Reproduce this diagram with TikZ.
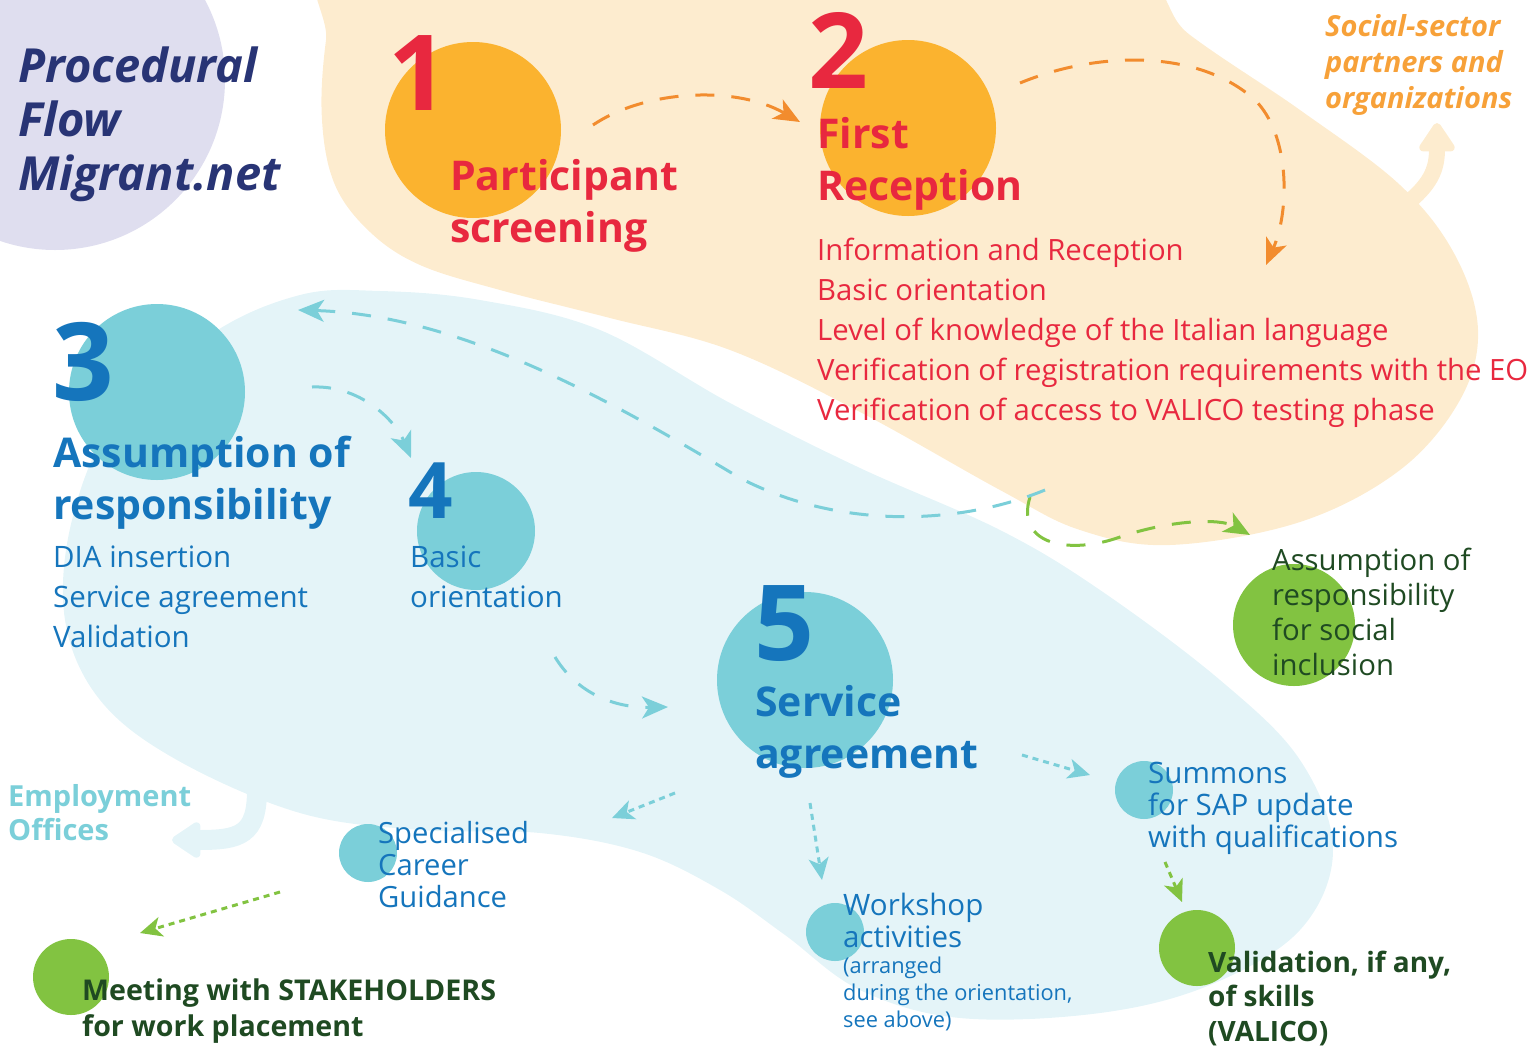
\documentclass[tikz,border=0pt]{standalone}
\usepackage{fontspec}
\setmainfont{Open Sans}
\usetikzlibrary{arrows.meta}
\definecolor{lav}{HTML}{DFDEEF}
\definecolor{peach}{HTML}{FDECCF}
\definecolor{skyb}{HTML}{E4F4F8}
\definecolor{orng}{HTML}{FBB32F}
\definecolor{teal}{HTML}{7BCFD9}
\definecolor{grn}{HTML}{82C341}
\definecolor{redt}{HTML}{E8283F}
\definecolor{bluet}{HTML}{1575BC}
\definecolor{greent}{HTML}{1F4A22}
\definecolor{navy}{HTML}{283475}
\definecolor{arrorange}{HTML}{F28C2E}
\definecolor{socorange}{HTML}{F7A139}
\tikzset{
  circ/.style={circle, inner sep=0pt, minimum size=#1},
  txt/.style={anchor=base west, inner sep=0pt, align=left},
  bigdash/.style={line width=3pt, dash pattern=on 19pt off 17pt, -{Stealth[length=26pt,width=22pt,inset=7pt]}},
  smalldot/.style={line width=3pt, dash pattern=on 6pt off 5pt, -{Stealth[length=22pt,width=20pt,inset=6pt]}},
  fatarrow/.style={line width=#1, line cap=round, -{Triangle[length=32pt,width=40pt,round]}},
}
\begin{document}
\begin{tikzpicture}[x=1pt,y=-1pt]
\useasboundingbox (0,0) rectangle (1535,1045);
\clip (0,0) rectangle (1535,1045);
% background blobs
\fill[lav] (55,80) circle[radius=170pt];
\fill[peach] plot[smooth cycle, tension=0.6] coordinates {(345,-60) (326,40) (322,120) (335,185) (370,232) (420,265) (500,290) (610,318) (730,350) (860,412) (1000,490) (1080,530) (1170,545) (1300,522) (1400,470) (1460,400) (1478,330) (1455,255) (1400,185) (1300,110) (1190,35) (1100,-40) (700,-70)};
\fill[skyb] plot[smooth cycle, tension=0.6] coordinates {(300,295) (380,291) (480,300) (600,330) (730,403) (860,468) (1000,530) (1100,590) (1220,680) (1300,760) (1333,850) (1300,930) (1210,985) (1100,1013) (960,1018) (860,990) (785,935) (720,890) (640,852) (540,833) (420,830) (300,813) (177,760) (100,700) (65,620) (72,520) (115,420) (210,335)};
% fat arrows
\coordinate (empS) at (257,790);
\coordinate (empE) at (172,840);
\draw[skyb, fatarrow=20pt] (empS) .. controls (257,835) and (240,840) .. (empE);
\coordinate (socS) at (1405,205);
\coordinate (socE) at (1437,123);
\draw[peach, fatarrow=16pt] (socS) .. controls (1430,185) and (1437,170) .. (socE);
% circles
\node[circ=176pt, fill=orng] (c1) at (473,130) {};
\node[circ=176pt, fill=orng] (c2) at (908,128) {};
\node[circ=176pt, fill=teal] (c3) at (157,392) {};
\node[circ=118pt, fill=teal] (c4) at (476,531) {};
\node[circ=176pt, fill=teal] (c5) at (805,680) {};
\node[circ=58pt, fill=teal] (cspec) at (368,853) {};
\node[circ=58pt, fill=teal] (cwork) at (835,932) {};
\node[circ=58pt, fill=teal] (csumm) at (1144,790) {};
\node[circ=122pt, fill=grn] (cinc) at (1294,625) {};
\node[circ=76pt, fill=grn] (cval) at (1197,948) {};
\node[circ=76pt, fill=grn] (cmeet) at (71,977) {};
% dashed connectors
\coordinate (a1s) at (593,125); \coordinate (a1e) at (800,122);
\draw[arrorange, bigdash] (a1s) .. controls (645,90) and (735,85) .. (a1e);
\coordinate (a2s) at (1020,83); \coordinate (a2m) at (1255,100); \coordinate (a2e) at (1266,265);
\draw[arrorange, bigdash] (a2s) .. controls (1100,50) and (1200,50) .. (a2m) .. controls (1290,135) and (1290,210) .. (a2e);
\coordinate (gs) at (1030,497); \coordinate (gm) at (1120,537); \coordinate (ge) at (1250,535);
\draw[grn, bigdash] (gs) .. controls (1015,545) and (1070,555) .. (gm) .. controls (1170,520) and (1220,518) .. (ge);
\coordinate (ts) at (1045,490); \coordinate (tm) at (740,478); \coordinate (te) at (298,310);
\draw[teal, bigdash] (ts) .. controls (960,525) and (840,530) .. (tm) .. controls (610,400) and (460,315) .. (te);
\coordinate (b34s) at (312,387); \coordinate (b34e) at (411,458);
\draw[teal, bigdash] (b34s) .. controls (360,385) and (395,420) .. (b34e);
\coordinate (b45s) at (555,657); \coordinate (b45e) at (668,707);
\draw[teal, bigdash] (b45s) .. controls (575,690) and (610,708) .. (b45e);
% dotted connectors
\coordinate (d1s) at (675,793); \coordinate (d1e) at (612,818);
\draw[teal, smalldot] (d1s) -- (d1e);
\coordinate (d2s) at (810,803); \coordinate (d2e) at (822,880);
\draw[teal, smalldot] (d2s) -- (d2e);
\coordinate (d3s) at (1022,755); \coordinate (d3e) at (1090,775);
\draw[teal, smalldot] (d3s) -- (d3e);
\coordinate (d4s) at (1165,862); \coordinate (d4e) at (1182,902);
\draw[grn, smalldot] (d4s) -- (d4e);
\coordinate (d5s) at (280,892); \coordinate (d5e) at (140,933);
\draw[grn, smalldot] (d5s) -- (d5e);
% texts (anchor = baseline of the last line)
\node[txt, text=navy, font=\fontsize{47}{54}\selectfont\bfseries\itshape] (title) at (18,190) {Procedural\\Flow\\Migrant.net};
\node[txt, text=socorange, font=\fontsize{29}{36}\selectfont\bfseries\itshape] (soc) at (1325,108) {Social-sector\\partners and\\organizations};
\node[txt, text=teal, font=\fontsize{29}{34}\selectfont\bfseries] (emp) at (8,840) {Employment\\Offices};
\node[txt, text=redt, font=\fontsize{105}{105}\selectfont\bfseries] (n1) at (388,110) {1};
\node[txt, text=redt, font=\fontsize{105}{105}\selectfont\bfseries] (n2) at (808,88) {2};
\node[txt, text=redt, font=\fontsize{41}{52}\selectfont\bfseries] (t1) at (450,242) {Participant\\screening};
\node[txt, text=redt, font=\fontsize{41}{52}\selectfont\bfseries] (t2) at (817,200) {First\\Reception};
\node[txt, text=redt, font=\fontsize{29.3}{40}\selectfont] (l2) at (817,420) {Information and Reception\\Basic orientation\\Level of knowledge of the Italian language\\Verification of registration requirements with the EO\\Verification of access to VALICO testing phase};
\node[txt, text=bluet, font=\fontsize{108}{108}\selectfont\bfseries] (n3) at (52,400) {3};
\node[txt, text=bluet, font=\fontsize{41}{52}\selectfont\bfseries] (t3) at (53,519) {Assumption of\\responsibility};
\node[txt, text=bluet, font=\fontsize{29.5}{40}\selectfont] (l3) at (53,647) {DIA insertion\\Service agreement\\Validation};
\node[txt, text=bluet, font=\fontsize{78}{78}\selectfont\bfseries] (n4) at (408,518) {4};
\node[txt, text=bluet, font=\fontsize{29.5}{40}\selectfont] (t4) at (410,607) {Basic\\orientation};
\node[txt, text=bluet, font=\fontsize{105}{105}\selectfont\bfseries] (n5) at (754,660) {5};
\node[txt, text=bluet, font=\fontsize{41}{52}\selectfont\bfseries] (t5) at (755,768) {Service\\agreement};
\node[txt, text=bluet, font=\fontsize{29.2}{32}\selectfont] (tspec) at (378,907) {Specialised\\Career\\Guidance};
\node[txt, text=bluet, font=\fontsize{29.5}{32}\selectfont] (twork) at (843,947) {Workshop\\activities};
\node[txt, text=bluet, font=\fontsize{21.8}{27}\selectfont] (twork2) at (843,1027) {(arranged\\during the orientation,\\see above)};
\node[txt, text=bluet, font=\fontsize{29.5}{32}\selectfont] (tsumm) at (1148,847) {Summons\\for SAP update\\with qualifications};
\node[txt, text=greent, font=\fontsize{29.3}{35}\selectfont] (tinc) at (1272,675) {Assumption of\\responsibility\\for social\\inclusion};
\node[txt, text=greent, font=\fontsize{28}{34.5}\selectfont\bfseries] (tval) at (1208,1041) {Validation, if any,\\of skills\\(VALICO)};
\node[txt, text=greent, font=\fontsize{28.6}{36}\selectfont\bfseries] (tmeet) at (82,1036) {Meeting with STAKEHOLDERS\\for work placement};
\end{tikzpicture}
\end{document}
